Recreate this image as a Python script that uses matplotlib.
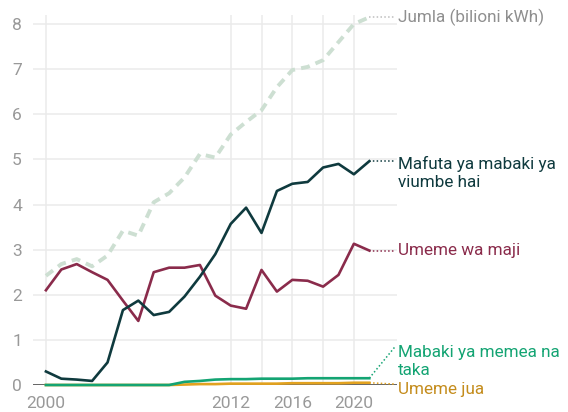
import matplotlib
matplotlib.use("Agg")
import matplotlib.pyplot as plt

plt.rcParams["font.family"] = ["Roboto", "DejaVu Sans"]

years = list(range(2000, 2022))

# bilioni kWh
jumla = [2.42, 2.68, 2.79, 2.63, 2.87, 3.42, 3.31, 4.05, 4.25, 4.6, 5.12, 5.04,
         5.55, 5.83, 6.09, 6.6, 6.98, 7.05, 7.2, 7.6, 8.0, 8.15]
mafuta = [0.3, 0.14, 0.12, 0.09, 0.5, 1.66, 1.87, 1.55, 1.62, 1.96, 2.4, 2.9,
          3.57, 3.93, 3.37, 4.3, 4.46, 4.5, 4.82, 4.9, 4.67, 4.96]
maji = [2.1, 2.56, 2.68, 2.5, 2.33, 1.87, 1.42, 2.5, 2.6, 2.6, 2.66, 1.98,
        1.76, 1.69, 2.55, 2.07, 2.33, 2.31, 2.18, 2.44, 3.13, 2.98]
taka = [0, 0, 0, 0, 0, 0, 0, 0, 0, 0.07, 0.09, 0.12,
        0.13, 0.13, 0.14, 0.14, 0.14, 0.15, 0.15, 0.15, 0.15, 0.15]
jua = [0, 0, 0, 0, 0, 0, 0, 0, 0, 0.01, 0.02, 0.02,
       0.03, 0.03, 0.03, 0.03, 0.04, 0.04, 0.04, 0.04, 0.05, 0.05]

labels = ["Jumla (bilioni kWh)", "Mafuta ya mabaki ya\nviumbe hai", "Umeme wa maji",
          "Mabaki ya memea na\ntaka", "Umeme jua"]

c_jumla = "#cddfd2"
c_mafuta = "#0f3a3e"
c_maji = "#8a2b4b"
c_taka = "#14a473"
c_jua = "#e2a21f"

fig = plt.figure(figsize=(5.68, 4.12), dpi=100)
ax = fig.add_axes([33 / 568, 27 / 412, 364 / 568, 370 / 412])

ax.set_xlim(1999.16, 2022.8)
ax.set_ylim(0, 8.2)

for y in range(0, 9):
    ax.axhline(y, color="#ebebeb", lw=1.1, zorder=0)
for x in [2000, 2012, 2014, 2016, 2018, 2020]:
    ax.axvline(x, color="#ebebeb", lw=1.1, zorder=0)
ax.axhline(0, color="#5a5a5a", lw=1.3, zorder=1)

ax.plot(years, jumla, color=c_jumla, lw=2.8, dashes=(2.3, 1.6), clip_on=False, zorder=2)
ax.plot(years, maji, color=c_maji, lw=1.9, clip_on=False, zorder=3)
ax.plot(years, mafuta, color=c_mafuta, lw=1.9, clip_on=False, zorder=4)
ax.plot(years, jua, color=c_jua, lw=1.9, clip_on=False, zorder=5)
ax.plot(years, taka, color=c_taka, lw=1.9, clip_on=False, zorder=6)

# dotted leaders and end labels
x_end = years[-1]
x_lead = 2022.7
x_txt = 2022.85
leaders = [
    (jumla[-1], 8.15, 8.14, labels[0], c_jumla, "#8f8f8f"),
    (mafuta[-1], mafuta[-1], 4.70, labels[1], c_mafuta, c_mafuta),
    (maji[-1], maji[-1], 2.97, labels[2], c_maji, c_maji),
    (taka[-1], 0.86, 0.52, labels[3], c_taka, c_taka),
    (jua[-1], 0.02, -0.09, labels[4], c_jua, "#c48c1c"),
]
for y0, y1, ytxt, lab, lc, tc in leaders:
    lead_c = "#bdbdbd" if lc == c_jumla else lc
    ax.plot([x_end, x_lead], [y0, y1], color=lead_c, lw=1.1, ls=(0, (1, 1.5)),
            clip_on=False, zorder=2)
    ax.text(x_txt, ytxt, lab, color=tc, fontsize=12.3, va="center", ha="left",
            linespacing=1.25, clip_on=False)

ax.set_xticks([2000, 2012, 2016, 2020])
ax.set_yticks(range(0, 9))
ax.tick_params(length=0, labelsize=12.5, colors="#999999", pad=8)
for s in ax.spines.values():
    s.set_visible(False)

fig.savefig("out.png", dpi=100)
